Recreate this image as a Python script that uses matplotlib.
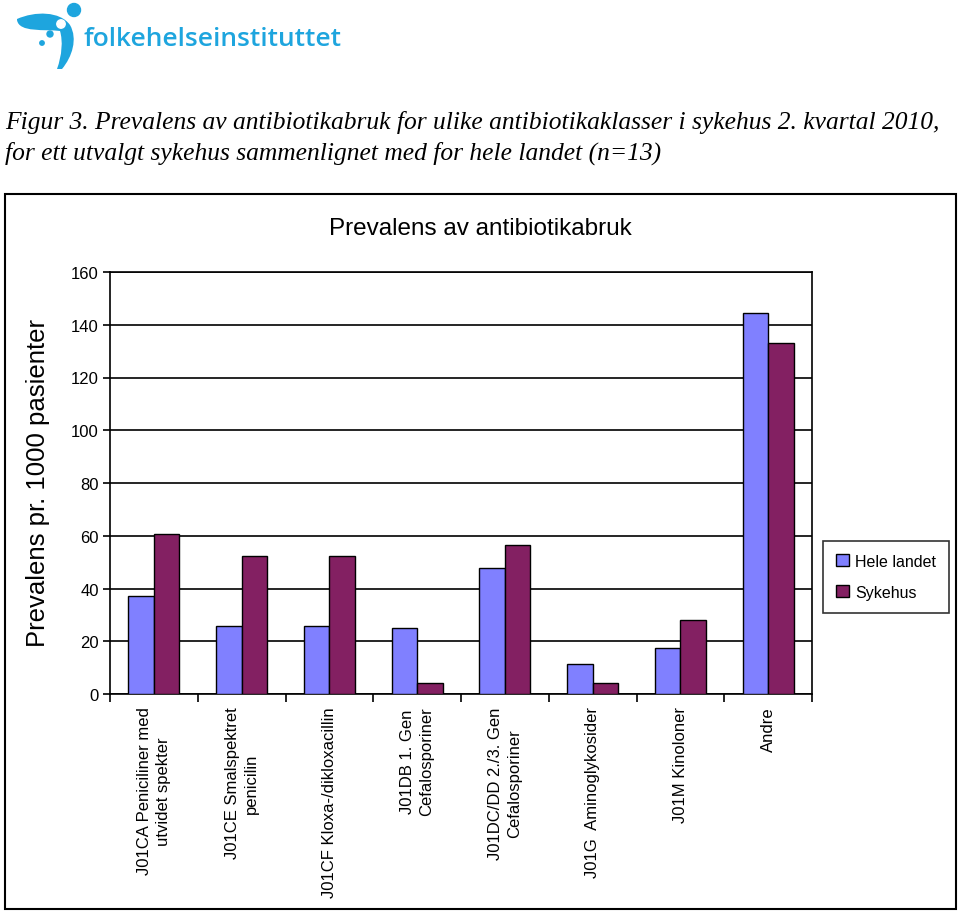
import matplotlib
matplotlib.use("Agg")
import matplotlib.pyplot as plt
import numpy as np
from matplotlib.patches import Rectangle, Circle, PathPatch
from matplotlib.path import Path

# Data
categories = [
    "J01CA Peniciliner med\nutvidet spekter",
    "J01CE Smalspektret\npenicilin",
    "J01CF Kloxa-/dikloxacillin",
    "J01DB 1. Gen\nCefalosporiner",
    "J01DC/DD 2./3. Gen\nCefalosporiner",
    "J01G  Aminoglykosider",
    "J01M Kinoloner",
    "Andre",
]
hele_landet = [37.2, 25.6, 25.6, 25.0, 47.9, 11.2, 17.3, 144.6]
sykehus = [60.5, 52.3, 52.3, 4.2, 56.4, 4.0, 28.1, 133.0]
yticks = [0, 20, 40, 60, 80, 100, 120, 140, 160]

blue = "#8080FF"
maroon = "#832062"
sans = "Liberation Sans"

W, H = 960, 912
fig = plt.figure(figsize=(9.6, 9.12), dpi=100)

# overlay in pixel coordinates for logo, caption and chart frame
bg = fig.add_axes([0, 0, 1, 1])
bg.set_xlim(0, W)
bg.set_ylim(H, 0)
bg.axis("off")

# logo
logo_c = "#1EA5DE"
verts = [(17, 20), (35, 12), (60, 12), (70, 26),
         (78, 40), (72, 58), (62, 70),
         (57, 70), (62, 56), (63, 42),
         (60, 32), (45, 30), (19, 34), (17, 20)]
codes = [Path.MOVETO, Path.CURVE4, Path.CURVE4, Path.CURVE4,
         Path.CURVE4, Path.CURVE4, Path.CURVE4,
         Path.LINETO, Path.CURVE4, Path.CURVE4,
         Path.CURVE4, Path.CURVE4, Path.CURVE4, Path.CLOSEPOLY]
bg.add_patch(PathPatch(Path(verts, codes), facecolor=logo_c, edgecolor="none"))
bg.add_patch(Circle((74, 11), 6.5, color=logo_c))
bg.add_patch(Circle((61, 25), 4.2, color="white"))
bg.add_patch(Circle((50, 35), 3, color=logo_c))
bg.add_patch(Circle((42, 44), 2.2, color=logo_c))
bg.text(84, 40, "folkehelseinstituttet", fontsize=19, color=logo_c,
        family="Open Sans", weight="semibold", va="center", ha="left")

# caption
bg.text(5, 123, "Figur 3. Prevalens av antibiotikabruk for ulike antibiotikaklasser i sykehus 2. kvartal 2010,",
        fontsize=18.4, family="Liberation Serif", style="italic", va="center", ha="left")
bg.text(5, 153, "for ett utvalgt sykehus sammenlignet med for hele landet (n=13)",
        fontsize=18.4, family="Liberation Serif", style="italic", va="center", ha="left")

# chart frame
bg.add_patch(Rectangle((5, 195), 951, 715, fill=False, edgecolor="black", lw=1.5))
bg.text(480, 229, "Prevalens av antibiotikabruk", fontsize=17.5, family=sans,
        ha="center", va="center")
bg.text(38, 483, "Prevalens pr. 1000 pasienter", fontsize=18.5, family=sans,
        ha="center", va="center", rotation=90)

# main plot
left, right, top, bottom = 110, 812, 273, 695
ax = fig.add_axes([left / W, 1 - bottom / H, (right - left) / W, (bottom - top) / H])
x = np.arange(len(categories))
w = 0.29
ax.bar(x - w / 2, hele_landet, w, color=blue, edgecolor="black", lw=1, zorder=3,
       label="Hele landet")
ax.bar(x + w / 2, sykehus, w, color=maroon, edgecolor="black", lw=1, zorder=3,
       label="Sykehus")

ax.set_xlim(-0.5, len(categories) - 0.5)
ax.set_ylim(0, 160)
ax.set_yticks(yticks)
ax.set_yticklabels([str(v) for v in yticks], fontsize=12, family=sans)
ax.yaxis.grid(True, color="black", lw=1.2, zorder=1)
ax.set_axisbelow(True)

# category boundaries as major ticks, labels at centers
ax.set_xticks(np.arange(len(categories) + 1) - 0.5)
ax.set_xticklabels([])
ax.set_xticks(x, minor=True)
ax.set_xticklabels(categories, minor=True, rotation=90, fontsize=12, family=sans,
                   va="top", ha="center", linespacing=1.35)
ax.tick_params(axis="x", which="minor", length=0, pad=9)
ax.tick_params(axis="x", which="major", length=6, width=1.2, direction="out")
ax.tick_params(axis="y", length=5, width=1.2, direction="out", pad=3)
for s in ax.spines.values():
    s.set_linewidth(1.2)

# legend in pixel position
leg = ax.legend(loc="upper left", bbox_to_anchor=((823 - left) / (right - left), 1 - (542 - top) / (bottom - top)),
                prop={"family": sans, "size": 11.5}, frameon=True, fancybox=False,
                edgecolor="black", handlelength=0.8, handleheight=0.8,
                handletextpad=0.4, borderpad=0.8, labelspacing=1.0, borderaxespad=0)
leg.get_frame().set_linewidth(1.2)

fig.savefig("out.png", dpi=100)
